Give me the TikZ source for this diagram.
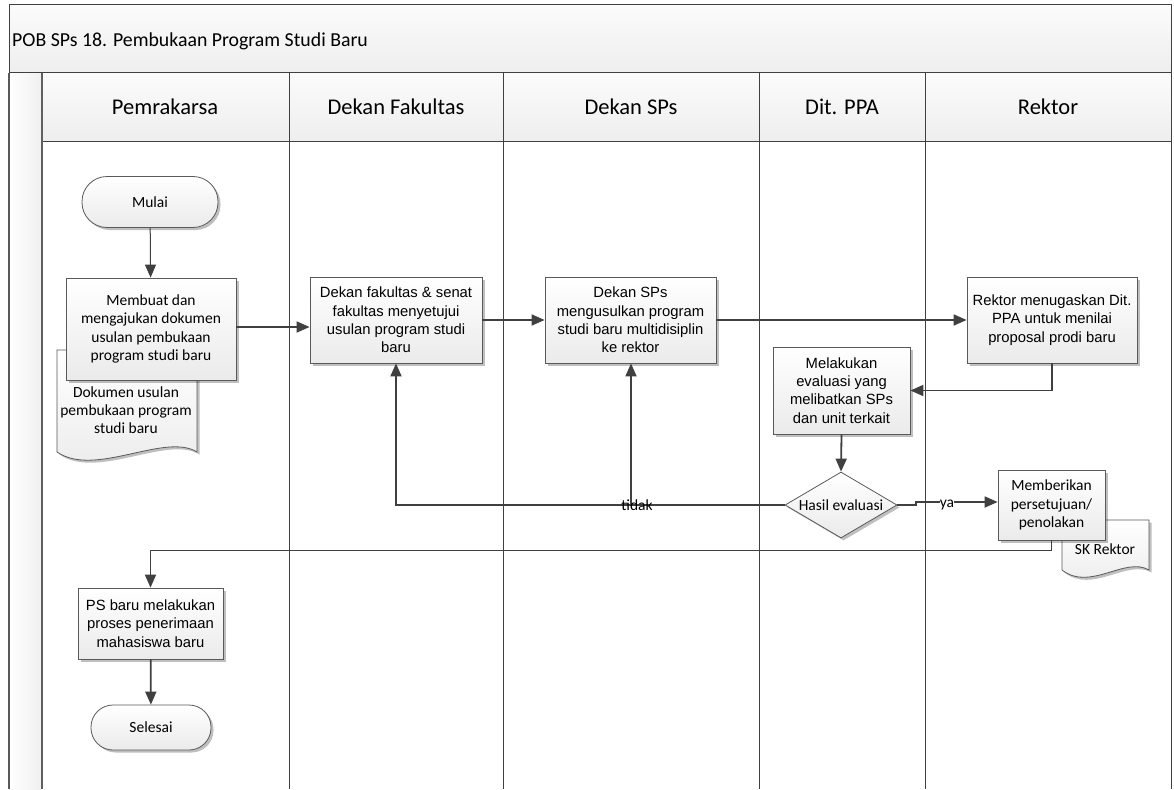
\documentclass[tikz,border=0pt]{standalone}
\usepackage{fontspec}
\newfontfamily\calfont{Carlito}
\newfontfamily\arifont{Liberation Sans}
\usetikzlibrary{arrows.meta,shapes.geometric,shadows}
\definecolor{ln}{HTML}{404040}
\definecolor{bd}{HTML}{5A5A5A}
\definecolor{bandtop}{HTML}{FBFBFB}
\definecolor{bandbot}{HTML}{EEEEEE}
\begin{document}
\begin{tikzpicture}[x=1pt,y=-1pt,
  arr/.style={draw=ln, line width=1.8pt, -{Triangle[length=13pt,width=11pt]}},
  thinarr/.style={draw=ln, line width=1pt, -{Triangle[length=13pt,width=11pt]}},
  lane/.style={draw=ln, line width=0.9pt},
  shad/.style={drop shadow={shadow xshift=2.5pt, shadow yshift=-2.5pt, opacity=0.25, fill=black}},
  proc/.style={draw=bd, line width=0.8pt, top color=white, bottom color=gray!16, shad, align=center, inner sep=0pt},
  term/.style={proc, rounded corners=25pt},
  docshape/.style={draw=bd, line width=0.8pt, top color=white, bottom color=gray!16, shad},
  calt/.style={font=\calfont\fontsize{15.5}{18.3}\selectfont},
  arit/.style={font=\arifont\fontsize{14.8}{18.3}\selectfont},
  lbl/.style={font=\calfont\fontsize{15.5}{17}\selectfont, inner sep=0pt},
  hdr/.style={font=\calfont\fontsize{22.5}{26}\selectfont, inner sep=0pt, anchor=base}
]
\useasboundingbox (0,0) rectangle (1174,789);
% background bands
\fill[white] (0,0) rectangle (1174,789);
\shade[top color=bandtop, bottom color=bandbot] (9,5) rectangle (1171,73);
\shade[top color=bandtop, bottom color=bandbot] (43,73) rectangle (1171,141);
\shade[left color=white, right color=gray!12] (9,73) rectangle (42,789);
% frame
\draw[ln, line width=1pt] (9,789) -- (9,5) -- (1171,5) -- (1171,789);
\draw[gray!70!black, line width=2pt] (9,73) -- (9,789);
\draw[ln, line width=1pt] (9,73) -- (1171,73);
\draw[gray!75!black, line width=2pt] (42,73) -- (42,789);
\draw[lane] (43,141) -- (1171,141);
\foreach \xx in {289,503,759,925} \draw[lane] (\xx,73) -- (\xx,789);
% titles
\node[font=\calfont\fontsize{19.8}{24}\selectfont, inner sep=0pt, anchor=base west] (title) at (12,47) {POB SPs 18. Pembukaan Program Studi Baru};
\node[hdr] (h1) at (165,114) {Pemrakarsa};
\node[hdr] (h2) at (396,114) {Dekan Fakultas};
\node[hdr] (h3) at (631,114) {Dekan SPs};
\node[hdr] (h4) at (842,114) {Dit. PPA};
\node[hdr] (h5) at (1048,114) {Rektor};
% documents (drawn behind their boxes)
\path[docshape] (57,350) -- (197,350) -- (197,452) .. controls (165,432) and (95,478) .. (57,452) -- cycle;
\node[calt, align=center, inner sep=0pt] (doc1) at (126,410) {Dokumen usulan\\pembukaan program\\studi baru};
\path[docshape] (1062,520) -- (1149,520) -- (1149,570) .. controls (1125,556) and (1090,592) .. (1062,570) -- cycle;
\node[calt, inner sep=0pt] (doc2) at (1105,549) {SK Rektor};
% nodes
\node[term, calt, minimum width=136pt, minimum height=51pt] (mulai) at (150,202) {Mulai};
\node[proc, calt, minimum width=170pt, minimum height=102pt] (membuat) at (151,329) {Membuat dan\\mengajukan dokumen\\usulan pembukaan\\program studi baru};
\node[proc, arit, minimum width=172pt, minimum height=86pt] (dfak) at (396,320) {Dekan fakultas \& senat\\fakultas menyetujui\\usulan program studi\\baru};
\node[proc, arit, minimum width=171pt, minimum height=86pt] (dsps) at (630.5,320) {Dekan SPs\\mengusulkan program\\studi baru multidisiplin\\ke rektor};
\node[proc, arit, minimum width=170pt, minimum height=86pt] (rektor) at (1052,320) {Rektor menugaskan Dit.\\PPA untuk menilai\\proposal prodi baru};
\node[proc, arit, minimum width=137pt, minimum height=87pt] (melakukan) at (841.5,390.5) {Melakukan\\evaluasi yang\\melibatkan SPs\\dan unit terkait};
\node[diamond, draw=bd, line width=0.8pt, top color=white, bottom color=gray!16, shad, calt, inner sep=0pt, aspect=1.7, minimum width=112pt, minimum height=66pt] (hasil) at (841,505) {Hasil evaluasi};
\node[proc, calt, minimum width=107pt, minimum height=70pt] (memberikan) at (1051.5,505) {Memberikan\\persetujuan/\\penolakan};
\node[proc, arit, minimum width=145pt, minimum height=71pt] (psbaru) at (150.5,623.5) {PS baru melakukan\\proses penerimaan\\mahasiswa baru};
\node[term, calt, minimum width=120pt, minimum height=45pt, rounded corners=22pt] (selesai) at (151,727.5) {Selesai};
% connectors
\draw[thinarr] (mulai) -- (membuat);
\draw[arr] ([yshift=2pt]membuat.east) -- ([yshift=2pt]membuat.east -| dfak.west);
\draw[arr] (dfak.east) -- (dsps.west);
\draw[arr] (dsps.east) -- (rektor.west);
\draw[arr] (rektor.south) |- (melakukan.east);
\draw[arr] (melakukan.south) -- (hasil.north);
\coordinate (jog) at (916,505);
\draw[arr] (hasil.east) -- (jog) -- ++(0,-3) -- (memberikan.west |- 0,502);
\node[lbl, fill=white] (ya) at (947,505) {ya};
\coordinate (tj) at (631,505);
\draw[arr] (hasil.west) -- (tj) -- (dfak.south |- tj) -- (dfak.south);
\draw[arr] (tj) -- (dsps.south -| tj);
\node[lbl] (tidak) at (637,505) {tidak};
\draw[arr] (memberikan.south) -- ++(0,10) -| (psbaru.north);
\draw[arr] (psbaru) -- (selesai);
\end{tikzpicture}
\end{document}
